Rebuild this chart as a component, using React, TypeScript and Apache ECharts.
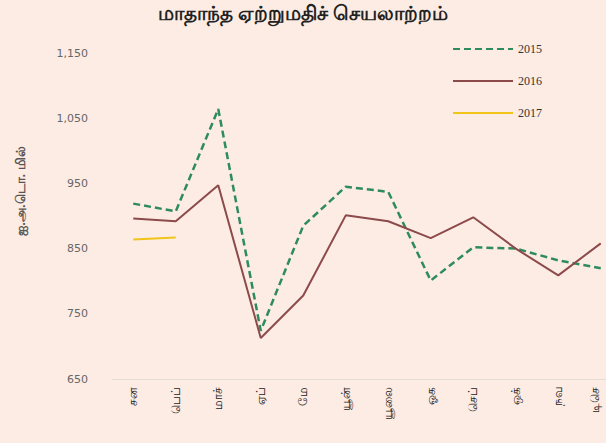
import React, { useEffect, useRef } from "react";
import * as echarts from "echarts";

const months = ["சன", "பெப்", "மாச்", "ஏப்", "மே", "யூன்", "யூலை", "ஓக", "செப்", "ஒக்", "நவ", "டிசெ"];
const s2015 = [919, 907, 1064, 724, 885, 945, 937, 801, 852, 850, 832, 820];
const s2016 = [896, 892, 947, 713, 778, 901, 892, 866, 898, 850, 809, 858];
const s2017 = [864, 867];
const yTicks = [650, 750, 850, 950, 1050, 1150];

export default function App() {
  const ref = useRef<HTMLDivElement>(null);
  useEffect(() => {
    const chart = echarts.init(ref.current!, null, { renderer: "svg" });
    const xData = months.map((m, i) =>
      i === months.length - 1 ? { value: m, textStyle: { verticalAlign: "bottom" } } : m
    );
    chart.setOption({
      animation: false,
      backgroundColor: "#fdece4",
      title: {
        text: "மாதாந்த ஏற்றுமதிச் செயலாற்றம்",
        left: "center",
        top: -3,
        textStyle: { fontSize: 20, fontWeight: "bold", color: "#222", fontFamily: "Noto Sans" },
      },
      graphic: [
        {
          type: "text",
          x: 20,
          y: 191,
          rotation: Math.PI / 2,
          style: {
            text: "ஐ.அ.டொ. மில்",
            fontSize: 13,
            fontWeight: "bold",
            fill: "#555",
            textAlign: "center",
            textVerticalAlign: "middle",
          },
        },
      ],
      legend: {
        orient: "vertical",
        left: 447,
        top: 38,
        itemWidth: 60,
        itemHeight: 14,
        itemGap: 20,
        itemStyle: { opacity: 0 },
        textStyle: { fontSize: 12, color: "#333", fontFamily: "Liberation Serif" },
        data: ["2015", "2016", "2017"],
      },
      grid: { left: 112, width: 510, top: 53, bottom: 64, containLabel: false, outerBoundsMode: "none" },
      xAxis: {
        type: "category",
        data: xData,
        boundaryGap: true,
        axisLine: { lineStyle: { color: "#e6dcd6", width: 1 } },
        axisTick: { show: false },
        axisLabel: { rotate: 90, fontSize: 12, color: "#222", margin: 8, interval: 0 },
      },
      yAxis: {
        type: "value",
        min: yTicks[0],
        max: yTicks[yTicks.length - 1],
        interval: 100,
        splitLine: { show: false },
        axisLine: { show: false },
        axisTick: { show: false },
        axisLabel: {
          margin: 24,
          fontSize: 11,
          color: "#666",
          fontFamily: "DejaVu Sans",
          formatter: (v: number) => v.toLocaleString("en-US"),
        },
      },
      series: [
        {
          name: "2015",
          type: "line",
          data: s2015,
          symbol: "none",
          lineStyle: { color: "#2e8b5e", width: 2.5, type: [7, 4] },
          itemStyle: { color: "#2e8b5e" },
        },
        {
          name: "2016",
          type: "line",
          data: s2016,
          symbol: "none",
          lineStyle: { color: "#8c4a4a", width: 2 },
          itemStyle: { color: "#8c4a4a" },
        },
        {
          name: "2017",
          type: "line",
          data: s2017,
          symbol: "none",
          lineStyle: { color: "#f0c419", width: 2 },
          itemStyle: { color: "#f0c419" },
        },
      ],
    });
    return () => chart.dispose();
  }, []);
  return <div ref={ref} style={{ width: 606, height: 443, position: "fixed", left: 0, top: 0 }} />;
}
